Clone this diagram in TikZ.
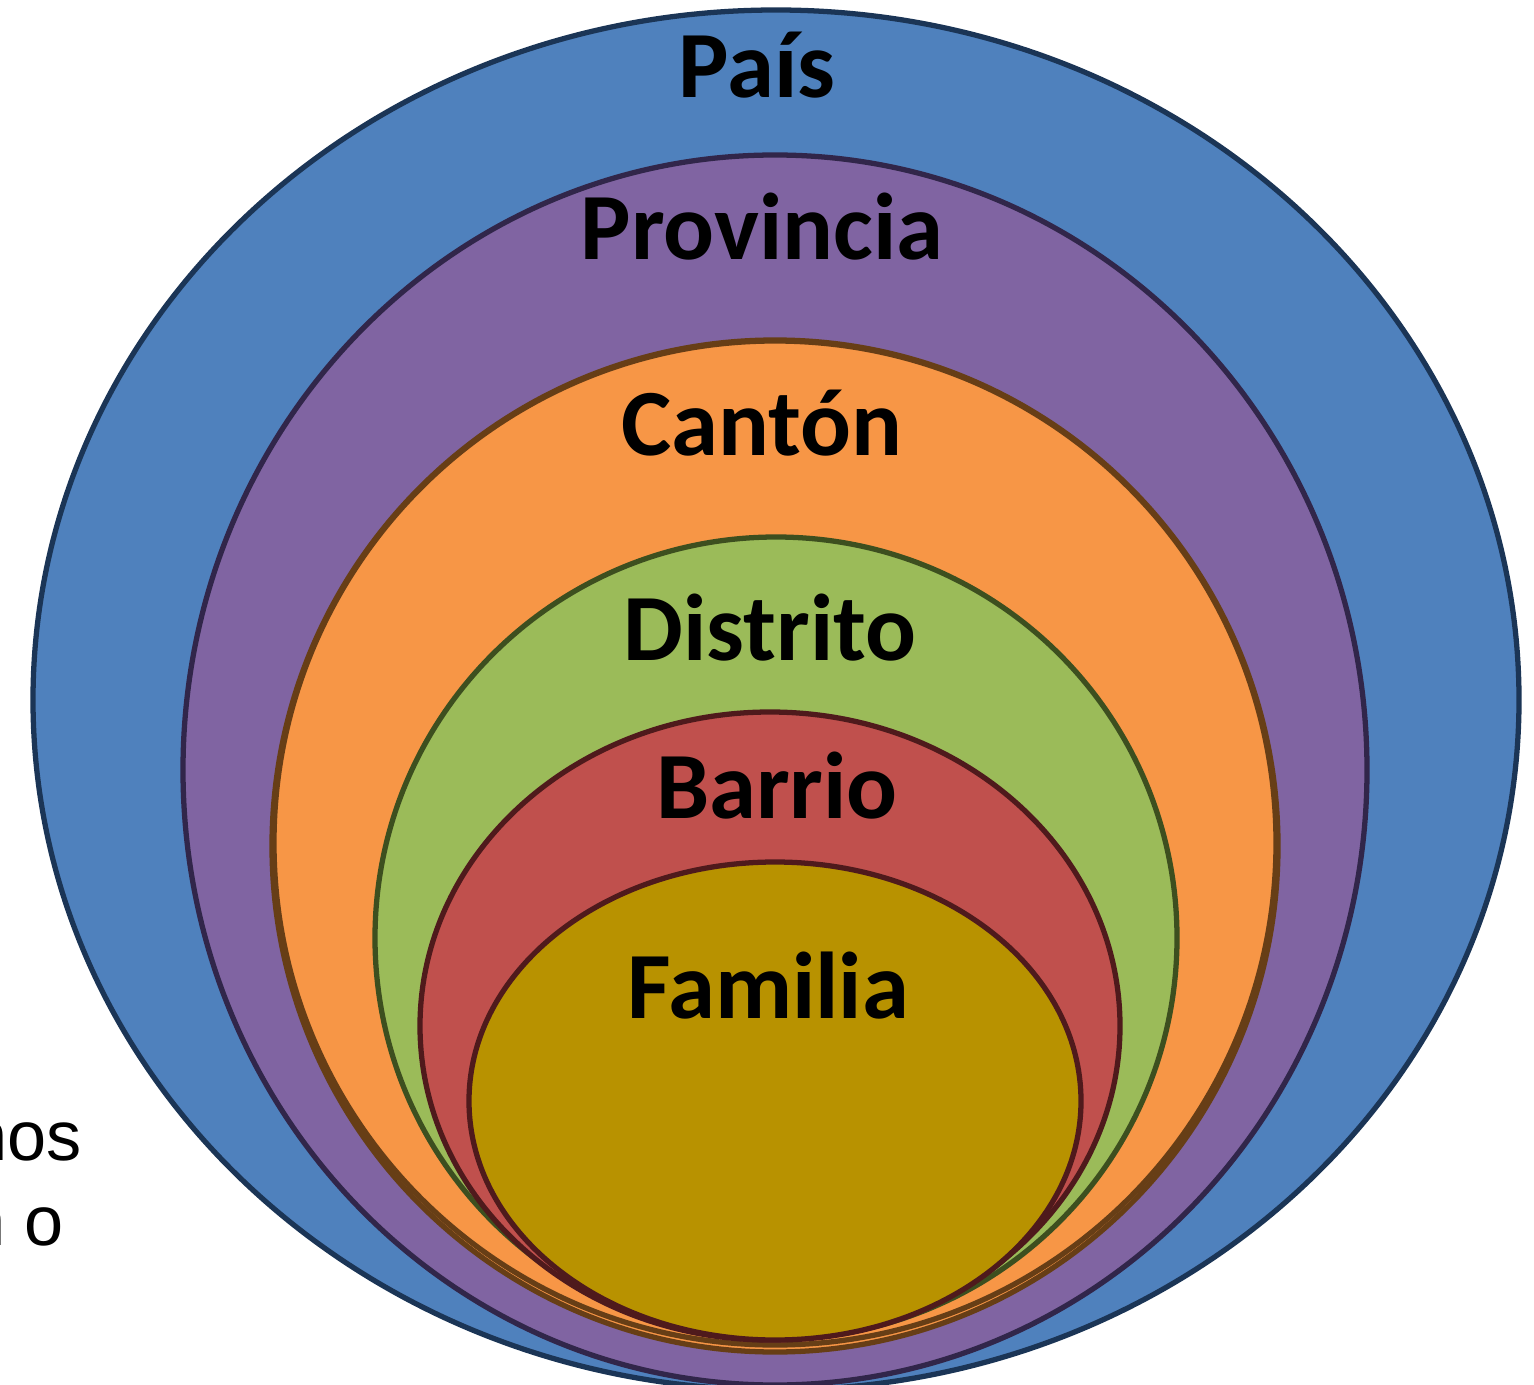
\documentclass[tikz,border=0pt]{standalone}
\usepackage{fontspec}
\setmainfont{Carlito}
\newfontfamily\arialfont{Liberation Sans}
\usepackage{tikz}

\definecolor{paisfill}{HTML}{4F81BD}
\definecolor{paisline}{HTML}{1B3556}
\definecolor{provfill}{HTML}{8064A2}
\definecolor{provline}{HTML}{31264A}
\definecolor{cantfill}{HTML}{F79646}
\definecolor{cantline}{HTML}{673E16}
\definecolor{distfill}{HTML}{9BBB59}
\definecolor{distline}{HTML}{3D4F1F}
\definecolor{barrfill}{HTML}{C0504D}
\definecolor{barrline}{HTML}{4F1A1C}
\definecolor{famfill}{HTML}{B89200}

\tikzset{
	ring/.style={line width=3pt},
	levelname/.style={anchor=base, font=\fontsize{54}{62}\selectfont\bfseries},
	sidetext/.style={anchor=base west, inner sep=0pt, font=\arialfont\fontsize{40}{48}\selectfont}
}

\begin{document}
\begin{tikzpicture}[x=0.02cm, y=-0.02cm]
		% Page frame, pixel units
		\clip (0,0) rectangle (1534,1385);
	
		% Draw the nested regions, outer first
		\filldraw[ring, fill=paisfill, draw=paisline] (776,700) ellipse[x radius=743, y radius=690];
		\filldraw[ring, fill=provfill, draw=provline] (775,770) ellipse[x radius=592, y radius=615];
		\filldraw[ring, fill=cantfill, draw=cantline] (775,846) ellipse[x radius=503, y radius=506];
		\filldraw[ring, fill=cantfill, draw=cantline] (775,843) ellipse[x radius=501, y radius=502];
		\filldraw[ring, fill=distfill, draw=distline] (776,938) ellipse[x radius=401, y radius=401];
		\filldraw[ring, fill=barrfill, draw=barrline] (770,1026) ellipse[x radius=350, y radius=314];
		\filldraw[ring, fill=famfill, draw=barrline] (775,1101) ellipse[x radius=306, y radius=239];
	
		% Label each level
		\node[levelname] (pais) at (757,98) {País};
		\node[levelname] (provincia) at (762,260) {Provincia};
		\node[levelname] (canton) at (762,455) {Cantón};
		\node[levelname] (distrito) at (770,660) {Distrito};
		\node[levelname] (barrio) at (777,818) {Barrio};
		\node[levelname] (familia) at (768,1018) {Familia};
	
		% Text cut off at the left edge
		\node[sidetext] (linea1) at (-32,1160) {nos};
		\node[sidetext] (linea2) at (-34,1245) {n o};
	
	\end{tikzpicture}
\end{document}
